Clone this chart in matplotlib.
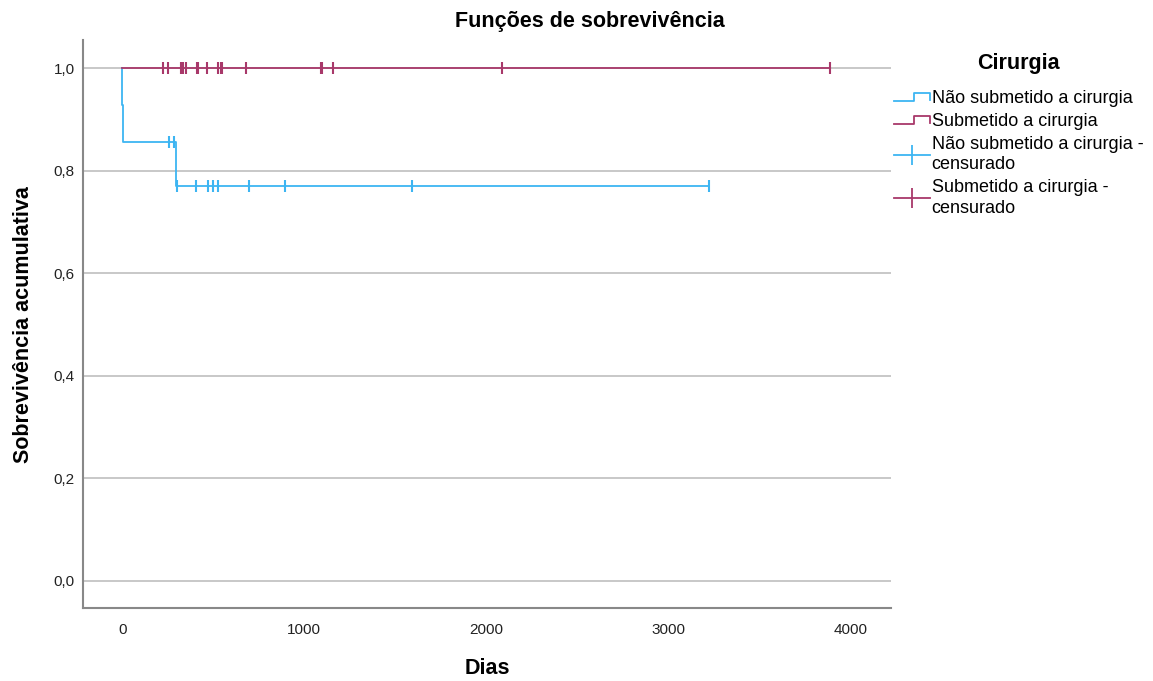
# Curvas de Kaplan-Meier por grupo de cirurgia
import numpy as np
import matplotlib.pyplot as plt
from matplotlib.lines import Line2D
from matplotlib.legend_handler import HandlerBase

plt.rcParams['font.family'] = ['Liberation Sans', 'DejaVu Sans']

# Tempos de seguimento (dias) e eventos (1 = óbito, 0 = censurado)
nao_tempos = [1, 6, 258, 286, 295, 300, 407, 473, 500, 527, 698, 896, 1593, 3225]
nao_evento = [1, 1, 0, 0, 1, 0, 0, 0, 0, 0, 0, 0, 0, 0]

sub_tempos = [225, 253, 324, 335, 352, 412, 418, 467, 527, 544, 549, 681,
              1093, 1099, 1159, 2088, 3890]
sub_evento = [0] * len(sub_tempos)

grupos = ['Não submetido a cirurgia', 'Submetido a cirurgia']
cores = ['#3db5f2', '#a8386a']


def kaplan_meier(tempos, eventos):
    t = np.array(tempos, dtype=float)
    e = np.array(eventos)
    ordem = np.argsort(t, kind='stable')
    t, e = t[ordem], e[ordem]
    n = len(t)
    xs, ys = [0.0], [1.0]
    s = 1.0
    cens_x, cens_y = [], []
    for i in range(n):
        em_risco = n - i
        if e[i] == 1:
            s = s * (1 - 1 / em_risco)
        else:
            cens_x.append(t[i])
            cens_y.append(s)
        xs.append(t[i])
        ys.append(s)
    return np.array(xs), np.array(ys), cens_x, cens_y


class HandlerDegrau(HandlerBase):
    def create_artists(self, legend, orig_handle, xdescent, ydescent,
                       width, height, fontsize, trans):
        x0, y0 = -xdescent, -ydescent
        xs = [x0, x0 + 0.55 * width, x0 + 0.55 * width, x0 + width, x0 + width]
        ys = [y0 + 0.15 * height, y0 + 0.15 * height, y0 + 0.85 * height,
              y0 + 0.85 * height, y0 + 0.25 * height]
        ln = Line2D(xs, ys, color=orig_handle.get_color(), lw=1.3, transform=trans)
        return [ln]


fig = plt.figure(figsize=(11.53, 6.81), dpi=100)
ax = fig.add_axes([0.072, 0.107, 0.701, 0.834])

dados = [(nao_tempos, nao_evento), (sub_tempos, sub_evento)]
linhas = []
for (tempos, eventos), cor in zip(dados, cores):
    xs, ys, cx, cy = kaplan_meier(tempos, eventos)
    ln, = ax.step(xs, ys, where='post', color=cor, lw=1.3)
    ax.plot(cx, cy, ls='none', marker='|', ms=9, mew=1.5, color=cor)
    linhas.append(ln)

ax.set_xlim(-215, 4225)
ax.set_ylim(-0.053, 1.055)
ax.set_xticks([0, 1000, 2000, 3000, 4000])
ax.set_yticks([0, 0.2, 0.4, 0.6, 0.8, 1.0])
ax.set_yticklabels(['0,0', '0,2', '0,4', '0,6', '0,8', '1,0'])
ax.tick_params(axis='both', length=0, labelsize=11, colors='#222222')
ax.tick_params(axis='x', pad=11)
ax.tick_params(axis='y', pad=6)
ax.grid(axis='y', color='#c8c8c8', lw=1.4)
ax.set_axisbelow(True)
for lado in ['top', 'right']:
    ax.spines[lado].set_visible(False)
for lado in ['left', 'bottom']:
    ax.spines[lado].set_color('#888888')
    ax.spines[lado].set_linewidth(1.5)

fig.text(590 / 1153, 1 - 21 / 681, 'Funções de sobrevivência', fontsize=15.5,
         fontweight='bold', ha='center', va='center')
ax.set_xlabel('Dias', fontsize=15.5, fontweight='bold', labelpad=15)
ax.set_ylabel('Sobrevivência acumulativa', fontsize=15.5, fontweight='bold', labelpad=14)

# Legenda com degraus para as curvas e cruzes para os censurados
cens_handles = [Line2D([], [], color=c, lw=1.3, marker='|', ms=14, mew=1.3)
                for c in cores]
handles = linhas + cens_handles
rotulos = [grupos[0], grupos[1],
           grupos[0] + ' -\ncensurado', grupos[1] + ' -\ncensurado']
leg = fig.legend(handles, rotulos, loc='upper left',
                 bbox_to_anchor=(881 / 1153, 1 - 40 / 681),
                 frameon=False, fontsize=13, title='Cirurgia',
                 title_fontproperties={'weight': 'bold', 'size': 15.5},
                 handlelength=2.0, handletextpad=0.1, labelspacing=0.33,
                 numpoints=1, borderpad=0.2,
                 handler_map={linhas[0]: HandlerDegrau(), linhas[1]: HandlerDegrau()})
for t in leg.get_texts():
    t.set_linespacing(1.25)
leg._legend_box.align = 'center'
leg._legend_box.sep = 12

fig.savefig('out.png', dpi=100)
